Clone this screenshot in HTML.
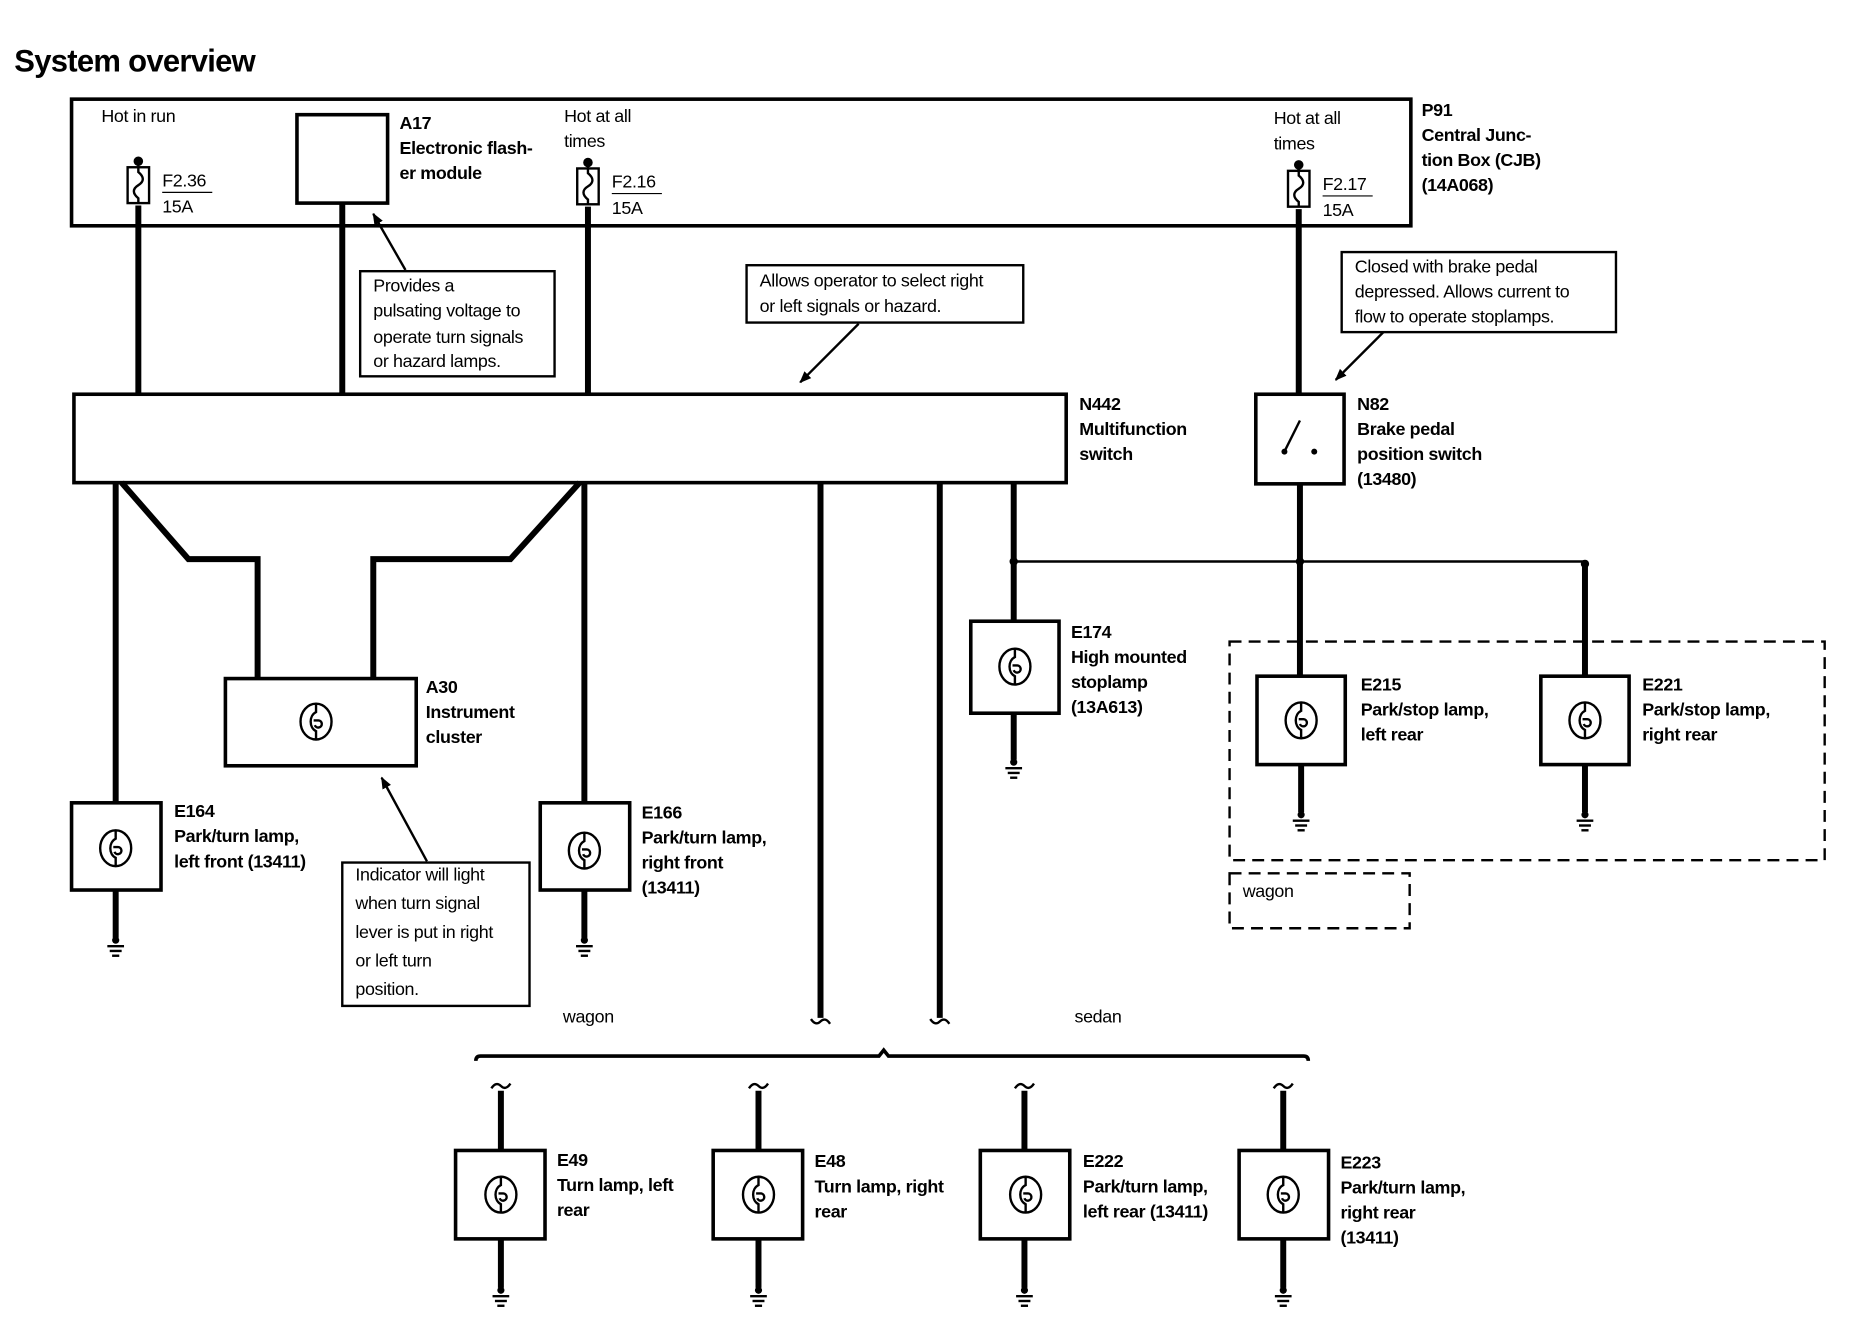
<!DOCTYPE html>
<html><head><meta charset="utf-8"><style>
html,body{margin:0;padding:0;background:#fff}
svg{display:block}
text{font-family:"Liberation Sans",Arial,sans-serif;fill:#000}
.t{font-size:15px;letter-spacing:-0.3px}
.b{font-size:15px;font-weight:bold;letter-spacing:-0.3px}
</style></head><body>
<svg width="1870" height="1344" viewBox="0 0 1568 1125" preserveAspectRatio="none" xmlns="http://www.w3.org/2000/svg">
<defs>
<g id="lamp" fill="none" stroke="#000" stroke-width="2">
<ellipse cx="0" cy="0" rx="13" ry="15"/>
<path d="M0,-15 L0,-8 C-6,-5 -6,5 0,8 L0,15"/>
<path d="M-2,-1 h4 a3,3 0 1 1 -3,4"/>
</g>
<g id="gnd" stroke="#000">
<circle cx="0" cy="0" r="3" fill="#000" stroke="none"/>
<line x1="-7" y1="5" x2="7" y2="5" stroke-width="2"/>
<line x1="-5" y1="9" x2="5" y2="9" stroke-width="2"/>
<line x1="-3" y1="13" x2="3" y2="13" stroke-width="2"/>
</g>
<g id="fuse" fill="none" stroke="#000" stroke-width="2">
<circle cx="0" cy="-5" r="3" fill="#000"/>
<rect x="-9" y="0" width="18" height="30"/>
<path d="M0,-5 L0,4 C5,8 5,12 0,15 C-5,18 -5,22 0,26 L0,30"/>
</g>
<marker id="ah" markerWidth="10" markerHeight="10" refX="9" refY="5" orient="auto" markerUnits="userSpaceOnUse">
<path d="M0,1 L10,5 L0,9 z" fill="#000"/>
</marker>
</defs>

<text x="12" y="60" style="font-size:26px;font-weight:bold;letter-spacing:-0.6px">System overview</text>

<!-- CJB -->
<rect x="60" y="83" width="1123" height="106" fill="none" stroke="#000" stroke-width="3"/>
<text class="t" x="85" y="102">Hot in run</text>
<text class="t" x="473" y="102">Hot at all</text><text class="t" x="473" y="123">times</text>
<text class="t" x="1068" y="104">Hot at all</text><text class="t" x="1068" y="125">times</text>
<use href="#fuse" x="116" y="140"/>
<use href="#fuse" x="493" y="141"/>
<use href="#fuse" x="1089" y="143"/>
<text class="t" x="136" y="156">F2.36</text><line x1="136" y1="161" x2="178" y2="161" stroke="#000"/><text class="t" x="136" y="178">15A</text>
<text class="t" x="513" y="157">F2.16</text><line x1="513" y1="162" x2="555" y2="162" stroke="#000"/><text class="t" x="513" y="179">15A</text>
<text class="t" x="1109" y="159">F2.17</text><line x1="1109" y1="164" x2="1151" y2="164" stroke="#000"/><text class="t" x="1109" y="181">15A</text>
<rect x="249" y="96" width="76" height="74" fill="none" stroke="#000" stroke-width="3"/>
<text class="b" x="335" y="108">A17</text><text class="b" x="335" y="129">Electronic flash-</text><text class="b" x="335" y="150">er module</text>
<text class="b" x="1192" y="97">P91</text><text class="b" x="1192" y="118">Central Junc-</text><text class="b" x="1192" y="139">tion Box (CJB)</text><text class="b" x="1192" y="160">(14A068)</text>

<g stroke="#000" stroke-width="5" fill="none">
<line x1="116" y1="172" x2="116" y2="330"/>
<line x1="287" y1="170" x2="287" y2="330"/>
<line x1="493" y1="173" x2="493" y2="330"/>
<line x1="1089" y1="175" x2="1089" y2="330"/>
</g>

<g fill="none" stroke="#000" stroke-width="2">
<rect x="302" y="227" width="163" height="88"/>
<rect x="626" y="222" width="232" height="48"/>
<rect x="1125" y="211" width="230" height="67"/>
<rect x="287" y="722" width="157" height="120"/>
<line x1="340" y1="226" x2="313" y2="179" marker-end="url(#ah)"/>
<line x1="720" y1="271" x2="671" y2="320" marker-end="url(#ah)"/>
<line x1="1160" y1="278" x2="1120" y2="318" marker-end="url(#ah)"/>
<line x1="358" y1="721" x2="320" y2="651" marker-end="url(#ah)"/>
</g>
<text class="t" x="313" y="244">Provides a</text><text class="t" x="313" y="265">pulsating voltage to</text><text class="t" x="313" y="287">operate turn signals</text><text class="t" x="313" y="307">or hazard lamps.</text>
<text class="t" x="637" y="240">Allows operator to select right</text><text class="t" x="637" y="261">or left signals or hazard.</text>
<text class="t" x="1136" y="228">Closed with brake pedal</text><text class="t" x="1136" y="249">depressed.  Allows current to</text><text class="t" x="1136" y="270">flow to operate stoplamps.</text>
<text class="t" x="298" y="737">Indicator will light</text><text class="t" x="298" y="761">when turn signal</text><text class="t" x="298" y="785">lever is put in right</text><text class="t" x="298" y="809">or left turn</text><text class="t" x="298" y="833">position.</text>

<rect x="62" y="330" width="832" height="74" fill="none" stroke="#000" stroke-width="3"/>
<text class="b" x="905" y="343">N442</text><text class="b" x="905" y="364">Multifunction</text><text class="b" x="905" y="385">switch</text>

<rect x="1053" y="330" width="74" height="75" fill="none" stroke="#000" stroke-width="3"/>
<line x1="1077" y1="378" x2="1090" y2="352" stroke="#000" stroke-width="2"/>
<circle cx="1077" cy="378" r="2.5"/><circle cx="1102" cy="378" r="2.5"/>
<text class="b" x="1138" y="343">N82</text><text class="b" x="1138" y="364">Brake pedal</text><text class="b" x="1138" y="385">position switch</text><text class="b" x="1138" y="406">(13480)</text>

<g stroke="#000" stroke-width="5" fill="none" stroke-linejoin="miter">
<line x1="97" y1="404" x2="97" y2="672"/>
<polyline points="102,404 158,468 216,468 216,568"/>
<polyline points="486,404 428,468 313,468 313,568"/>
<line x1="490" y1="404" x2="490" y2="672"/>
<line x1="688" y1="404" x2="688" y2="852"/>
<line x1="788" y1="404" x2="788" y2="852"/>
<line x1="850" y1="404" x2="850" y2="520"/>
<line x1="1090" y1="405" x2="1090" y2="566"/>
<line x1="1329" y1="470" x2="1329" y2="566"/>
<line x1="97" y1="745" x2="97" y2="785"/>
<line x1="490" y1="745" x2="490" y2="785"/>
<line x1="850" y1="597" x2="850" y2="636"/>
<line x1="1091" y1="640" x2="1091" y2="680"/>
<line x1="1329" y1="640" x2="1329" y2="680"/>
<line x1="420" y1="913" x2="420" y2="963"/><line x1="420" y1="1037" x2="420" y2="1078"/>
<line x1="636" y1="913" x2="636" y2="963"/><line x1="636" y1="1037" x2="636" y2="1078"/>
<line x1="859" y1="913" x2="859" y2="963"/><line x1="859" y1="1037" x2="859" y2="1078"/>
<line x1="1076" y1="913" x2="1076" y2="963"/><line x1="1076" y1="1037" x2="1076" y2="1078"/>
</g>
<g stroke="#000" stroke-width="2" fill="none">
<path d="M680,853 q4,6 8,2 q4,-4 8,2"/><path d="M780,853 q4,6 8,2 q4,-4 8,2"/>
<path d="M412,911 q4,-6 8,-2 q4,4 8,-2"/><path d="M628,911 q4,-6 8,-2 q4,4 8,-2"/>
<path d="M851,911 q4,-6 8,-2 q4,4 8,-2"/><path d="M1068,911 q4,-6 8,-2 q4,4 8,-2"/>
<line x1="850" y1="470" x2="1329" y2="470"/>
<path d="M399,888 q0,-4 4,-4 L737,884 l4,-5 l4,5 L1093,884 q4,0 4,4" stroke-width="3"/>
</g>
<circle cx="850" cy="470" r="3.5"/><circle cx="1090" cy="470" r="3.5"/><circle cx="1329" cy="472" r="3.5"/>

<rect x="189" y="568" width="160" height="73" fill="none" stroke="#000" stroke-width="3"/>
<use href="#lamp" x="265" y="604"/>
<text class="b" x="357" y="580">A30</text><text class="b" x="357" y="601">Instrument</text><text class="b" x="357" y="622">cluster</text>

<g fill="none" stroke="#000" stroke-width="3">
<rect x="60" y="672" width="75" height="73"/>
<rect x="453" y="672" width="75" height="73"/>
<rect x="814" y="520" width="74" height="77"/>
<rect x="1054" y="566" width="74" height="74"/>
<rect x="1292" y="566" width="74" height="74"/>
<rect x="382" y="963" width="75" height="74"/>
<rect x="598" y="963" width="75" height="74"/>
<rect x="822" y="963" width="75" height="74"/>
<rect x="1039" y="963" width="75" height="74"/>
</g>
<use href="#lamp" x="97" y="710"/><use href="#lamp" x="490" y="712"/><use href="#lamp" x="851" y="558"/>
<use href="#lamp" x="1091" y="603"/><use href="#lamp" x="1329" y="603"/>
<use href="#lamp" x="420" y="1000"/><use href="#lamp" x="636" y="1000"/><use href="#lamp" x="860" y="1000"/><use href="#lamp" x="1076" y="1000"/>
<use href="#gnd" x="97" y="787"/><use href="#gnd" x="490" y="787"/><use href="#gnd" x="850" y="638"/>
<use href="#gnd" x="1091" y="682"/><use href="#gnd" x="1329" y="682"/>
<use href="#gnd" x="420" y="1080"/><use href="#gnd" x="636" y="1080"/><use href="#gnd" x="859" y="1080"/><use href="#gnd" x="1076" y="1080"/>

<text class="b" x="146" y="684">E164</text><text class="b" x="146" y="705">Park/turn lamp,</text><text class="b" x="146" y="726">left front (13411)</text>
<text class="b" x="538" y="685">E166</text><text class="b" x="538" y="706">Park/turn lamp,</text><text class="b" x="538" y="727">right front</text><text class="b" x="538" y="748">(13411)</text>
<text class="b" x="898" y="534">E174</text><text class="b" x="898" y="555">High mounted</text><text class="b" x="898" y="576">stoplamp</text><text class="b" x="898" y="597">(13A613)</text>
<text class="b" x="1141" y="578">E215</text><text class="b" x="1141" y="599">Park/stop lamp,</text><text class="b" x="1141" y="620">left rear</text>
<text class="b" x="1377" y="578">E221</text><text class="b" x="1377" y="599">Park/stop lamp,</text><text class="b" x="1377" y="620">right rear</text>

<g fill="none" stroke="#000" stroke-width="2" stroke-dasharray="10,6">
<rect x="1031" y="537" width="499" height="183"/>
<rect x="1031" y="731" width="151" height="46"/>
</g>
<text class="t" x="1042" y="751">wagon</text>
<text class="t" x="472" y="856">wagon</text>
<text class="t" x="901" y="856">sedan</text>

<text class="b" x="467" y="976">E49</text><text class="b" x="467" y="997">Turn lamp, left</text><text class="b" x="467" y="1018">rear</text>
<text class="b" x="683" y="977">E48</text><text class="b" x="683" y="998">Turn lamp, right</text><text class="b" x="683" y="1019">rear</text>
<text class="b" x="908" y="977">E222</text><text class="b" x="908" y="998">Park/turn lamp,</text><text class="b" x="908" y="1019">left rear (13411)</text>
<text class="b" x="1124" y="978">E223</text><text class="b" x="1124" y="999">Park/turn lamp,</text><text class="b" x="1124" y="1020">right rear</text><text class="b" x="1124" y="1041">(13411)</text>
</svg>
</body></html>
